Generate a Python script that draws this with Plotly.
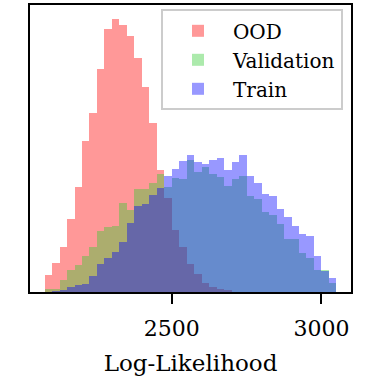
import plotly.graph_objects as go

# Shared histogram bins (left edges, Log-Likelihood) and bin width
bin_left = [2075, 2100, 2125, 2150, 2175, 2200, 2225, 2250, 2275, 2300,
            2325, 2350, 2375, 2400, 2425, 2450, 2475, 2500, 2525, 2550,
            2575, 2600, 2625, 2650, 2675, 2700, 2725, 2750, 2775, 2800,
            2825, 2850, 2875, 2900, 2925, 2950, 2975, 3000, 3025]
bin_width = 25

# Bar heights (arbitrary density units)
ood = [16.8, 29.3, 45.2, 73.2, 105.2, 152.0, 180.3, 223.7, 264.7, 274.7,
       268.0, 257.0, 234.7, 206.0, 170.0, 122.8, 94.7, 62.7, 45.3, 28.0,
       17.8, 9.0, 5.0, 3.0, 2.3, 0, 0, 0, 0, 0,
       0, 0, 0, 0, 0, 0, 0, 0, 0]
validation = [2.7, 3.0, 12.0, 22.0, 27.0, 36.2, 45.0, 61.0, 65.5, 66.5,
              89.5, 82.0, 103.7, 103.7, 110.0, 118.7, 105.3, 115.0, 113.7, 133.0,
              120.3, 125.3, 119.0, 115.5, 107.0, 113.7, 116.5, 96.3, 93.2, 80.7,
              77.0, 68.7, 53.7, 53.0, 39.5, 34.5, 22.0, 22.0, 8.7]
train = [0, 0.5, 1.7, 5.5, 7.0, 7.8, 16.0, 28.0, 33.7, 40.3,
         50.3, 69.3, 86.3, 88.7, 97.0, 104.3, 116.2, 123.7, 132.0, 137.7,
         130.7, 128.5, 132.7, 135.0, 122.7, 131.0, 137.7, 116.2, 109.5, 98.0,
         96.0, 83.7, 75.5, 66.0, 57.8, 56.0, 36.3, 21.0, 14.3]

series_names = ["OOD", "Validation", "Train"]
series_values = [ood, validation, train]
series_colors = ["#ff0000", "#32cd32", "#0000ff"]

x_ticks = [2500, 3000]
x_tick_labels = ["2500", "3000"]

fig = go.Figure()
for name, vals, color in zip(series_names, series_values, series_colors):
    fig.add_trace(go.Bar(
        x=bin_left, y=vals, width=bin_width, offset=0,
        name=name, opacity=0.4,
        marker=dict(color=color, line=dict(width=0)),
    ))

ymax = max(ood + validation + train) * 1.05

fig.update_layout(
    width=381, height=381,
    margin=dict(l=30, r=30, t=3, b=89),
    paper_bgcolor="white", plot_bgcolor="white",
    barmode="overlay", bargap=0,
    font=dict(family="DejaVu Serif", color="black"),
    showlegend=True,
    legend=dict(
        x=0.975, y=0.985, xanchor="right", yanchor="top",
        bgcolor="white", bordercolor="#cccccc", borderwidth=2,
        font=dict(family="DejaVu Serif", size=20, color="black"),
        itemwidth=60, tracegroupgap=0,
    ),
    xaxis=dict(
        range=[2026.25, 3098.75],
        tickvals=x_ticks, ticktext=x_tick_labels,
        ticks="outside", ticklen=10, tickwidth=2, tickcolor="black",
        tickfont=dict(family="DejaVu Serif", size=22, color="black"),
        ticklabelstandoff=6,
        showline=True, linecolor="black", linewidth=2, mirror=True,
        showgrid=False, zeroline=False,
        title=dict(text="Log-Likelihood",
                   font=dict(family="DejaVu Serif", size=23, color="black"),
                   standoff=14),
    ),
    yaxis=dict(
        range=[0, ymax],
        showticklabels=False, ticks="",
        showline=True, linecolor="black", linewidth=2, mirror=True,
        showgrid=False, zeroline=False,
    ),
)

fig.write_html("out.html", config={"displayModeBar": False},
               post_script="document.body.style.margin='0';")
